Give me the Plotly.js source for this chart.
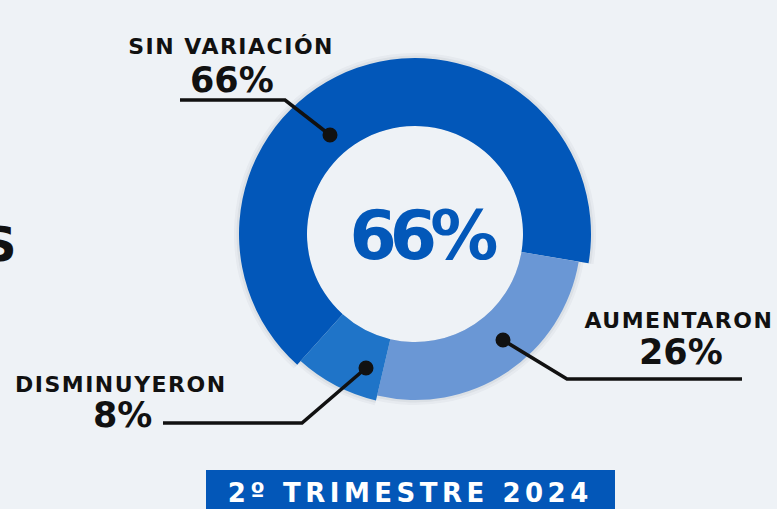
<!DOCTYPE html>
<html><head><meta charset="utf-8">
<script src="https://cdn.plot.ly/plotly-3.0.1.min.js"></script>
<style>
html,body{margin:0;padding:0;background:#eef2f6;}
#chart{width:777px;height:509px;}
.annotation[data-index="0"] text,
.annotation[data-index="3"] text,
.annotation[data-index="5"] text{letter-spacing:1.5px;}
.annotation[data-index="2"] text{letter-spacing:-7px;}
.annotation[data-index="7"] text{letter-spacing:4.5px;}
</style></head><body><div id="chart"></div>
<script>
// ---- data ----
const categories = ["SIN VARIACIÓN", "AUMENTARON", "DISMINUYERON"];
const values = [66, 26, 8];
const periodLabel = "2º TRIMESTRE 2024";

// ---- styling / geometry ----
const W = 777, H = 509;
const px = x => x / W;
const py = y => 1 - y / H;
const cx = 415, cy = 234, holeR = 108;
const sliceColors = ["#0257B9", "#6A97D5", "#1F74C8"];
const sliceRadius = [176, 166, 171];

function ring(i, R, color) {
  return {
    type: 'pie', labels: categories, values: values, sort: false,
    direction: 'clockwise', rotation: 222, hole: holeR / R,
    textinfo: 'none', hoverinfo: 'label+percent', showlegend: false,
    marker: {colors: categories.map((_, j) => j === i ? color : 'rgba(0,0,0,0)'), line: {width: 0}},
    domain: {x: [px(cx - R), px(cx + R)], y: [py(cy + R), py(cy - R)]}
  };
}
const traces = [];
categories.forEach((c, i) => {
  traces.push(ring(i, sliceRadius[i] + 5, 'rgba(20,30,60,0.035)'));
  traces.push(ring(i, sliceRadius[i] + 2.5, 'rgba(20,30,60,0.05)'));
});
categories.forEach((c, i) => traces.push(ring(i, sliceRadius[i], sliceColors[i])));

const F = 'DejaVu Sans';
function ann(text, x, y, size, color, extra) {
  return Object.assign({text: text, x: px(x), y: py(y), xref: 'paper', yref: 'paper',
    xanchor: 'center', yanchor: 'middle', showarrow: false,
    font: {family: F, size: size, color: color, weight: 700}}, extra || {});
}
const ink = '#111111';
const annotations = [
  ann(categories[0], 231, 47, 22, ink),
  ann(values[0] + '%', 232, 80, 35, ink),
  ann(values[0] + '%', 421, 235, 68, '#0358B9'),
  ann(categories[1], 679, 320, 22, ink),
  ann(values[1] + '%', 681, 352, 35, ink),
  ann(categories[2], 121, 384, 22, ink),
  ann(values[2] + '%', 122, 415, 35, ink),
  ann(periodLabel, 410, 493, 26, '#ffffff'),
  ann('S', 19, 244, 48, ink, {xanchor: 'right'})
];

function pathPx(pts) {
  return pts.map((p, k) => (k ? 'L' : 'M') + px(p[0]).toFixed(5) + ',' + py(p[1]).toFixed(5)).join(' ');
}
const lineStyle = {color: ink, width: 3.6};
function dot(x, y, r) {
  return {type: 'circle', xref: 'paper', yref: 'paper', x0: px(x - r), x1: px(x + r), y0: py(y + r), y1: py(y - r),
    fillcolor: ink, line: {width: 0}};
}
const shapes = [
  {type: 'rect', xref: 'paper', yref: 'paper', x0: px(206), x1: px(615), y0: py(509), y1: py(470),
    fillcolor: '#0357B8', line: {width: 0}, layer: 'below'},
  {type: 'path', xref: 'paper', yref: 'paper', path: pathPx([[180, 100], [285, 100], [330, 135]]), line: lineStyle},
  {type: 'path', xref: 'paper', yref: 'paper', path: pathPx([[742, 379], [567, 379], [503, 340]]), line: lineStyle},
  {type: 'path', xref: 'paper', yref: 'paper', path: pathPx([[163, 423], [302, 423], [366, 368]]), line: lineStyle},
  dot(330, 135, 7.5), dot(503, 340, 7.5), dot(366, 368, 7.5)
];

const layout = {
  width: W, height: H, margin: {l: 0, r: 0, t: 0, b: 0},
  paper_bgcolor: '#eef2f6', plot_bgcolor: '#eef2f6', showlegend: false,
  annotations: annotations, shapes: shapes
};
Plotly.newPlot('chart', traces, layout, {displayModeBar: false, staticPlot: true});
</script></body></html>
